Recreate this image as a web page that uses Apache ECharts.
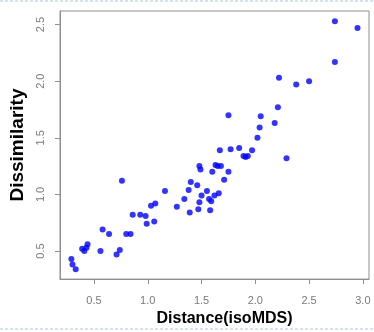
<!DOCTYPE html>
<html>
<head>
<meta charset="utf-8">
<script src="https://cdn.jsdelivr.net/npm/echarts@6/dist/echarts.min.js"></script>
<style>
  html, body { margin: 0; padding: 0; background: #fff; }
  #chart { width: 374px; height: 332px; }
</style>
</head>
<body>
<div id="chart"></div>
<script>
// isoMDS distance vs dissimilarity
const distance = [
    0.29, 0.30, 0.33, 0.39, 0.41, 0.43, 0.44, 0.56, 0.58, 0.64,
    0.71, 0.74, 0.76, 0.80, 0.84, 0.86, 0.93, 0.98, 0.99, 1.03,
    1.06, 1.07, 1.16, 1.27, 1.34, 1.38, 1.39, 1.40, 1.46, 1.48,
    1.49, 1.50, 1.48, 1.47, 1.55, 1.57, 1.59, 1.58, 1.60, 1.62,
    1.66, 1.63, 1.65, 1.68, 1.71, 1.75, 1.67, 1.77, 1.85, 1.97,
    1.89, 1.91, 1.93, 2.29, 2.02, 2.04, 2.05, 1.75, 2.18, 2.21,
    2.22, 2.38, 2.50, 2.74, 2.74, 2.95
]
const dissimilarity = [
    0.43, 0.38, 0.34, 0.52, 0.50, 0.53, 0.56, 0.50, 0.69, 0.65,
    0.47, 0.51, 1.12, 0.65, 0.65, 0.82, 0.82, 0.81, 0.74, 0.90,
    0.76, 0.92, 1.03, 0.89, 0.96, 1.04, 0.84, 1.11, 1.08, 1.25,
    1.22, 0.99, 0.93, 0.87, 1.03, 0.96, 0.94, 0.86, 1.20, 0.99,
    1.01, 1.26, 1.25, 1.25, 1.13, 1.20, 1.39, 1.40, 1.41, 1.39,
    1.34, 1.33, 1.34, 1.32, 1.50, 1.59, 1.69, 1.70, 1.63, 1.77,
    2.03, 1.97, 2.00, 2.17, 2.53, 2.47
]
const xTicks = [0.5, 1.0, 1.5, 2.0, 2.5, 3.0]
const yTicks = [0.5, 1.0, 1.5, 2.0, 2.5]

const points = distance.map((d, i) => [d, dissimilarity[i]])

const chart = echarts.init(document.getElementById('chart'))

const boxColor = '#8f8f8f'
const labelColor = '#7a7a7a'

chart.setOption({
    backgroundColor: '#fff',
    animation: false,
    grid: {
        left: 57,
        right: 5,
        top: 11,
        bottom: 51,
        show: true,
        borderColor: boxColor,
        borderWidth: 1,
    },
    xAxis: {
        type: 'value',
        min: 0.184,
        max: 3.057,
        name: 'Distance(isoMDS)',
        nameLocation: 'middle',
        nameGap: 30,
        nameTextStyle: {
            fontFamily: 'Liberation Sans',
            fontWeight: 'bold',
            fontSize: 16,
            color: '#000',
            padding: [0, 0, 0, 20],
        },
        axisLine: { show: true, lineStyle: { color: boxColor } },
        axisTick: {
            show: true,
            length: 5,
            customValues: xTicks,
            lineStyle: { color: boxColor },
        },
        axisLabel: {
            customValues: xTicks,
            formatter: v => v.toFixed(1),
            color: labelColor,
            fontFamily: 'Liberation Sans',
            fontSize: 11,
            margin: 16,
        },
        splitLine: { show: false },
    },
    yAxis: {
        type: 'value',
        min: 0.252,
        max: 2.62,
        name: 'Dissimilarity',
        nameLocation: 'middle',
        nameGap: 33,
        nameTextStyle: {
            fontFamily: 'Liberation Sans',
            fontWeight: 'bold',
            fontSize: 19,
            color: '#000',
        },
        axisLine: { show: true, lineStyle: { color: boxColor } },
        axisTick: {
            show: true,
            length: 5,
            customValues: yTicks,
            lineStyle: { color: boxColor },
        },
        axisLabel: {
            customValues: yTicks,
            formatter: v => v.toFixed(1),
            rotate: 90,
            color: labelColor,
            fontFamily: 'Liberation Sans',
            fontSize: 11,
            margin: 14,
        },
        splitLine: { show: false },
    },
    // slide frame dashes, top and bottom
    graphic: [
        {
            type: 'line',
            shape: { x1: 0, y1: 1, x2: 374, y2: 1 },
            style: { stroke: '#a9c6e2', lineWidth: 1, lineDash: [3, 2] },
        },
        {
            type: 'line',
            shape: { x1: 0, y1: 329, x2: 374, y2: 329 },
            style: { stroke: '#a9c6e2', lineWidth: 1, lineDash: [3, 2] },
        },
    ],
    series: [
        {
            type: 'scatter',
            data: points,
            symbol: 'circle',
            symbolSize: 6,
            itemStyle: { color: '#0000ff' },
        },
    ],
})
</script>
</body>
</html>
